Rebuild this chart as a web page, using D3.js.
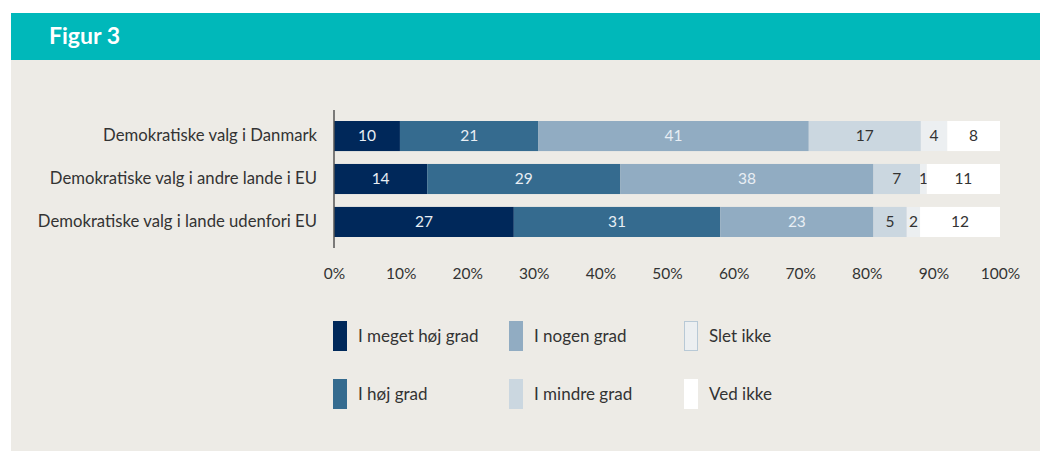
<!DOCTYPE html>
<html>
<head>
<meta charset="utf-8">
<script src="https://cdn.jsdelivr.net/npm/d3@7"></script>
<style>
  body { margin: 0; background: #fff; }
  svg { display: block; }
  text { font-family: Lato, "Open Sans", sans-serif; }
</style>
</head>
<body>
<div id="chart"></div>
<script>
// data
var categories = ["Demokratiske valg i Danmark", "Demokratiske valg i andre lande i EU", "Demokratiske valg i lande udenfori EU"];
var seriesNames = ["I meget høj grad", "I høj grad", "I nogen grad", "I mindre grad", "Slet ikke", "Ved ikke"];
var megetHoj = [10, 14, 27];
var hoj = [21, 29, 31];
var nogen = [41, 38, 23];
var mindre = [17, 7, 5];
var sletIkke = [4, 1, 2];
var vedIkke = [8, 11, 12];
var tickValues = [0, 0.1, 0.2, 0.3, 0.4, 0.5, 0.6, 0.7, 0.8, 0.9, 1];

var colors = ["#00285a", "#356b8f", "#91acc2", "#cbd7e0", "#eceff1", "#ffffff"];
var labelColors = ["#e8eef4", "#e8eef4", "#e8eef4", "#333", "#333", "#333"];

var W = 1040, H = 451;
var margin = {top: 110, left: 334, right: 40};

var seriesVals = [megetHoj, hoj, nogen, mindre, sletIkke, vedIkke];
var rows = categories.map(function (c, i) {
  var r = {cat: c};
  seriesNames.forEach(function (s, j) { r[s] = seriesVals[j][i]; });
  return r;
});

var svg = d3.select("#chart").append("svg")
  .attr("width", W).attr("height", H);

// panel + header
svg.append("rect").attr("x", 11).attr("y", 60).attr("width", W - 11).attr("height", H - 60).attr("fill", "#edebe6");
svg.append("rect").attr("x", 11).attr("y", 13).attr("width", W - 11).attr("height", 47).attr("fill", "#00b8ba");
svg.append("text").attr("x", 49).attr("y", 44)
  .style("font-size", "23px").style("font-weight", "bold").attr("fill", "#fff")
  .text("Figur 3");

var x = d3.scaleLinear().domain([0, 1]).range([margin.left, 1000]);
var y = d3.scaleBand().domain(categories).range([121, 237]).paddingInner(0.3);

var stack = d3.stack().keys(seriesNames).offset(d3.stackOffsetExpand);
var stacked = stack(rows);

var g = svg.append("g");
stacked.forEach(function (layer, j) {
  var lg = g.append("g");
  lg.selectAll("rect")
    .data(layer)
    .enter()
    .append("rect")
    .attr("x", function (d) { return x(d[0]); })
    .attr("width", function (d) { return x(d[1]) - x(d[0]); })
    .attr("y", function (d) { return y(d.data.cat); })
    .attr("height", y.bandwidth())
    .attr("fill", colors[j]);
  lg.selectAll("text")
    .data(layer)
    .enter()
    .append("text")
    .attr("x", function (d) { return (x(d[0]) + x(d[1])) / 2; })
    .attr("y", function (d) { return y(d.data.cat) + y.bandwidth() / 2; })
    .attr("dy", "0.35em")
    .attr("text-anchor", "middle")
    .style("font-size", "15.5px")
    .attr("fill", labelColors[j])
    .text(function (d) { return d.data[seriesNames[j]]; });
});

// category axis
var yAxis = svg.append("g")
  .attr("transform", "translate(" + (margin.left - 17) + ",0)")
  .call(d3.axisLeft(y).tickSize(0).tickPadding(0));
yAxis.select(".domain").remove();
yAxis.selectAll("text").style("font-size", "16.7px").attr("fill", "#333")
  .style("font-family", "Lato, sans-serif");

svg.append("line")
  .attr("x1", margin.left).attr("x2", margin.left)
  .attr("y1", 110).attr("y2", 248)
  .attr("stroke", "#555").attr("stroke-width", 1.5);

// x axis labels
var xAxis = svg.append("g")
  .attr("transform", "translate(0,268)")
  .call(d3.axisBottom(x).tickValues(tickValues).tickFormat(d3.format(".0%")).tickSize(0).tickPadding(0));
xAxis.select(".domain").remove();
xAxis.selectAll("text").style("font-size", "15.5px").attr("fill", "#333")
  .style("font-family", "Lato, sans-serif");

// legend, 3 columns x 2 rows
var legX = [333, 509, 684];
var legY = [321, 379];
seriesNames.forEach(function (s, j) {
  var col = Math.floor(j / 2), row = j % 2;
  svg.append("rect")
    .attr("x", legX[col] + (j == 4 ? 0.5 : 0)).attr("y", legY[row] + (j == 4 ? 0.5 : 0))
    .attr("width", j == 4 ? 13 : 14).attr("height", j == 4 ? 29 : 30)
    .attr("fill", colors[j])
    .attr("stroke", j == 4 ? "#b8c9d6" : "none");
  svg.append("text")
    .attr("x", legX[col] + 25).attr("y", legY[row] + 15)
    .attr("dy", "0.35em")
    .style("font-size", "17px").attr("fill", "#333")
    .text(s);
});
</script>
</body>
</html>
